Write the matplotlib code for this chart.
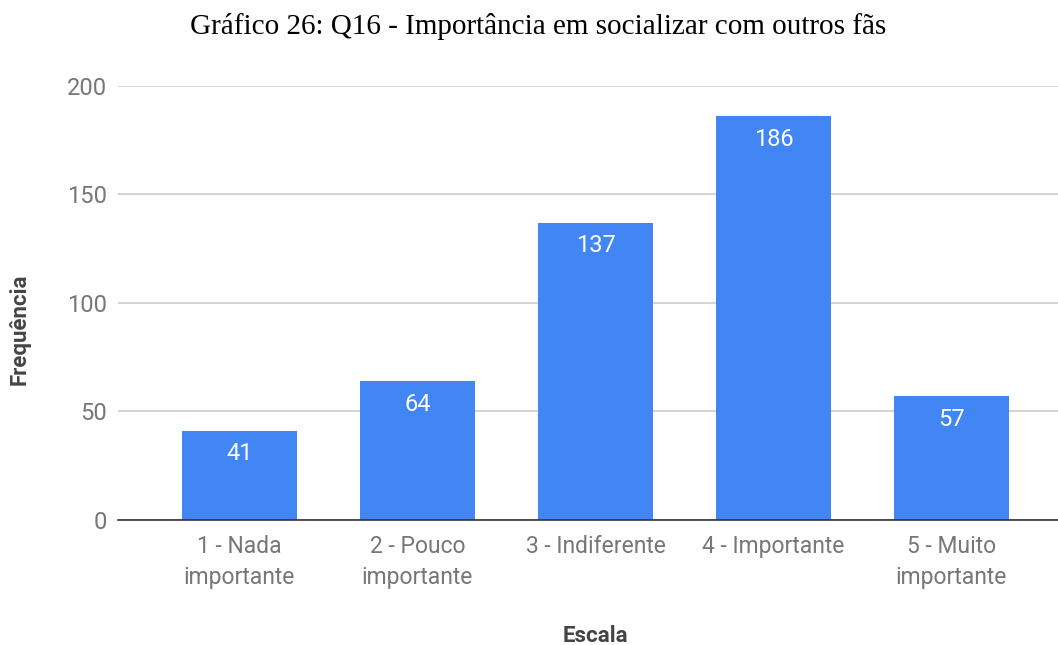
import matplotlib.pyplot as plt

# Respostas da Q16
categorias = ["1 - Nada\nimportante", "2 - Pouco\nimportante", "3 - Indiferente",
              "4 - Importante", "5 - Muito\nimportante"]
frequencias = [41, 64, 137, 186, 57]
yticks = [0, 50, 100, 150, 200]

fig = plt.figure(figsize=(10.58, 6.45), dpi=100)
ax = fig.add_axes([0.1115, 0.1938, 0.8885, 0.6729])

x = range(len(categorias))
bars = ax.bar(x, frequencias, width=0.646, color="#4285F4", zorder=2)

for b, v in zip(bars, frequencias):
    ax.annotate(str(v), (b.get_x() + b.get_width() / 2, v),
                xytext=(0, -16.5), textcoords="offset points",
                ha="center", va="center", color="white",
                fontfamily="Roboto", fontsize=17)

ax.set_xlim(-0.683, 4.598)
ax.set_ylim(0, 200)
ax.set_yticks(yticks)
ax.set_xticks(list(x))
ax.set_xticklabels(categorias, fontfamily="Roboto", fontsize=16.5,
                   color="#777777", linespacing=1.45)
for lbl in ax.get_yticklabels():
    lbl.set_fontfamily("Roboto")
    lbl.set_fontsize(17)
    lbl.set_color("#777777")

ax.grid(axis="y", color="#cccccc", linewidth=1.2, zorder=0)
ax.tick_params(axis="y", length=0, pad=8)
ax.tick_params(axis="x", length=0, pad=11)
for side in ["top", "right", "left"]:
    ax.spines[side].set_visible(False)
ax.spines["bottom"].set_color("#333333")
ax.spines["bottom"].set_linewidth(1.2)
ax.spines["bottom"].set_zorder(3)

fig.text(538 / 1058, 1 - 27 / 645, "Gráfico 26: Q16 - Importância em socializar com outros fãs",
         ha="center", va="center", fontfamily="Liberation Serif", fontsize=21)
fig.text(595 / 1058, 1 - 636 / 645, "Escala", ha="center", va="center",
         fontfamily="Roboto", fontweight="bold", fontsize=16, color="#444444")
fig.text(20 / 1058, 1 - 329 / 645, "Frequência", ha="center", va="center",
         rotation=90, fontfamily="Roboto", fontweight="bold", fontsize=16,
         color="#444444")

fig.savefig("out.png", dpi=100, facecolor="white")
